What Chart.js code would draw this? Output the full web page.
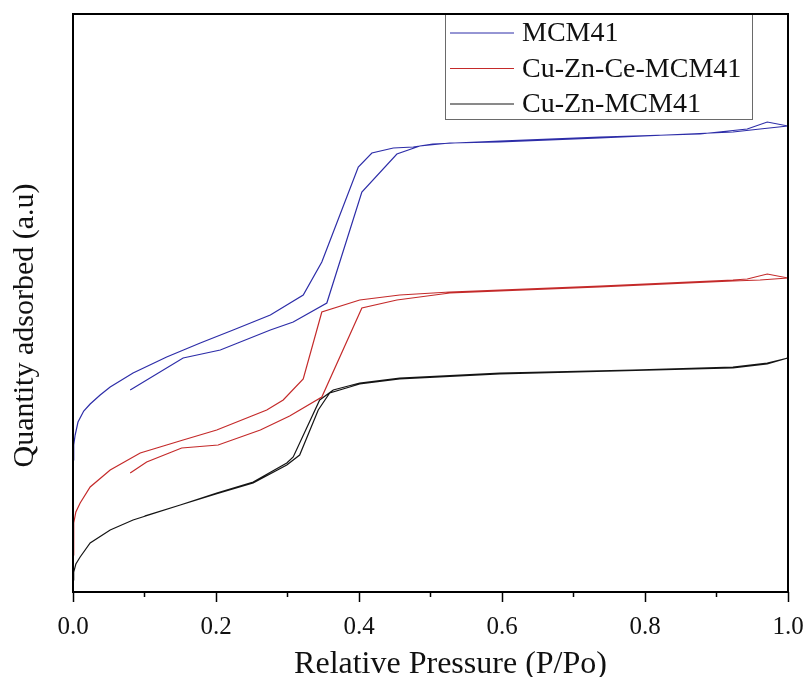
<!DOCTYPE html>
<html>
<head>
<meta charset="utf-8">
<script src="https://cdn.jsdelivr.net/npm/chart.js@4.4.0/dist/chart.umd.min.js"></script>
<style>
  html, body { margin: 0; padding: 0; background: #fff; }
</style>
</head>
<body>
<canvas id="chartIso" width="806" height="677"></canvas>
<script>
// isotherm loops: adsorption branch out to P/Po = 1, then desorption back
const mcm41P = [0.000, 0.001, 0.003, 0.007, 0.015, 0.024, 0.038, 0.052, 0.084, 0.131, 0.178, 0.224, 0.276, 0.322, 0.348, 0.399, 0.418, 0.448, 0.476, 0.503, 0.597, 0.737, 0.877, 0.943, 0.971, 1.000,
                0.961, 0.923, 0.737, 0.597, 0.527, 0.485, 0.453, 0.404, 0.355, 0.308, 0.276, 0.206, 0.154, 0.080];
const mcm41Q = [132, 147, 157, 170, 181, 188, 197, 205, 219, 235, 249, 262, 277, 297, 330, 425, 439, 444, 445, 448, 451, 455, 458, 463, 470, 466,
                463, 460, 454, 450, 449, 446, 438, 400, 289, 270, 262, 242, 234, 202];

const ceP = [0.000, 0.001, 0.004, 0.010, 0.024, 0.052, 0.094, 0.154, 0.201, 0.271, 0.294, 0.322, 0.348, 0.401, 0.457, 0.527, 0.737, 0.923, 0.943, 0.971, 1.000,
             0.961, 0.923, 0.737, 0.527, 0.453, 0.404, 0.348, 0.303, 0.262, 0.203, 0.152, 0.103, 0.080];
const ceQ = [37, 69, 80, 89, 105, 122, 139, 152, 162, 182, 192, 213, 280, 292, 297, 300, 306, 312, 313, 318, 314,
             312, 311, 305, 299, 292, 284, 195, 176, 162, 147, 144, 130, 119];

const cuZnP = [0.000, 0.001, 0.004, 0.010, 0.024, 0.052, 0.084, 0.150, 0.201, 0.252, 0.299, 0.308, 0.345, 0.364, 0.401, 0.457, 0.597, 0.783, 0.923, 0.971, 1.000,
               0.971, 0.923, 0.597, 0.457, 0.401, 0.359, 0.343, 0.317, 0.299, 0.252, 0.200, 0.150, 0.100];
const cuZnQ = [12, 20, 28, 35, 49, 62, 72, 87, 99, 110, 129, 135, 192, 202, 209, 214, 219, 222, 225, 229, 234,
               228, 224, 218, 213, 208, 199, 182, 137, 127, 109, 98, 87, 76];

const seriesNames = ["MCM41", "Cu-Zn-Ce-MCM41", "Cu-Zn-MCM41"];
const seriesColors = ["#2d2da8", "#c42a2a", "#141414"];

const toPoints = (px, qy) => px.map((p, i) => ({ x: p, y: qy[i] }));

const serif = "'Liberation Serif', 'Times New Roman', serif";

// legend in a grey box at the top right of the plot
const boxLegend = {
  id: 'boxLegend',
  afterDraw(chart) {
    const ctx = chart.ctx;
    ctx.save();
    ctx.fillStyle = '#fff';
    ctx.fillRect(445, 14, 307, 105);
    ctx.strokeStyle = '#6a6a6a';
    ctx.lineWidth = 1;
    ctx.strokeRect(445.5, 14.5, 307, 105);
    ctx.font = '28px ' + serif;
    ctx.textBaseline = 'middle';
    chart.data.datasets.forEach((ds, i) => {
      const y = 33 + i * 35.5;
      ctx.strokeStyle = ds.borderColor;
      ctx.lineWidth = 1;
      ctx.beginPath();
      ctx.moveTo(450, y);
      ctx.lineTo(514, y);
      ctx.stroke();
      ctx.fillStyle = '#111';
      ctx.fillText(ds.label, 522, y + 1);
    });
    ctx.restore();
  }
};

// box round the plot + minor ticks on the bottom axis
const frame = {
  id: 'frame',
  afterDraw(chart) {
    const { ctx, chartArea: a } = chart;
    const x = chart.scales.x;
    ctx.save();
    ctx.strokeStyle = '#000';
    ctx.lineWidth = 2;
    ctx.strokeRect(a.left, a.top, a.right - a.left, a.bottom - a.top);
    ctx.lineWidth = 1.5;
    x.ticks.forEach(t => {
      const v = t.value + 0.1;
      if (v > x.max + 1e-9) return;
      const px = x.getPixelForValue(v);
      ctx.beginPath();
      ctx.moveTo(px, a.bottom);
      ctx.lineTo(px, a.bottom + 5);
      ctx.stroke();
    });
    ctx.restore();
  }
};

new Chart(document.getElementById('chartIso'), {
  type: 'line',
  data: {
    datasets: [
      { label: seriesNames[0], data: toPoints(mcm41P, mcm41Q), borderColor: seriesColors[0] },
      { label: seriesNames[1], data: toPoints(ceP, ceQ), borderColor: seriesColors[1] },
      { label: seriesNames[2], data: toPoints(cuZnP, cuZnQ), borderColor: seriesColors[2] }
    ]
  },
  options: {
    responsive: false,
    animation: false,
    events: [],
    layout: { padding: { top: 14, right: 18, left: 0, bottom: 0 } },
    elements: {
      line: { borderWidth: 1.2, tension: 0, fill: false },
      point: { radius: 0 }
    },
    plugins: {
      legend: { display: false },
      tooltip: { enabled: false }
    },
    scales: {
      x: {
        type: 'linear',
        min: 0,
        max: 1,
        afterFit: s => { s.height = 85; s.paddingLeft = 0; s.paddingRight = 0; },
        ticks: {
          stepSize: 0.2,
          padding: 10,
          maxRotation: 0,
          color: '#111',
          font: { family: serif, size: 25 },
          callback: v => v.toFixed(1)
        },
        grid: { display: true, drawOnChartArea: false, tickLength: 10, tickWidth: 1.5, tickColor: '#000' },
        border: { display: false },
        title: {
          display: true,
          text: '     Relative Pressure (P/Po)',
          color: '#111',
          font: { family: serif, size: 32, lineHeight: 0.8 },
          padding: { top: 0, bottom: 0 }
        }
      },
      y: {
        min: 0,
        max: 578,
        afterFit: s => { s.width = 73; },
        ticks: { display: false },
        grid: { display: false },
        border: { display: false },
        title: {
          display: true,
          text: 'Quantity adsorbed (a.u)      ',
          color: '#111',
          font: { family: serif, size: 30, lineHeight: 1 },
          padding: { top: 10, bottom: 0 }
        }
      }
    }
  },
  plugins: [boxLegend, frame]
});
</script>
</body>
</html>
